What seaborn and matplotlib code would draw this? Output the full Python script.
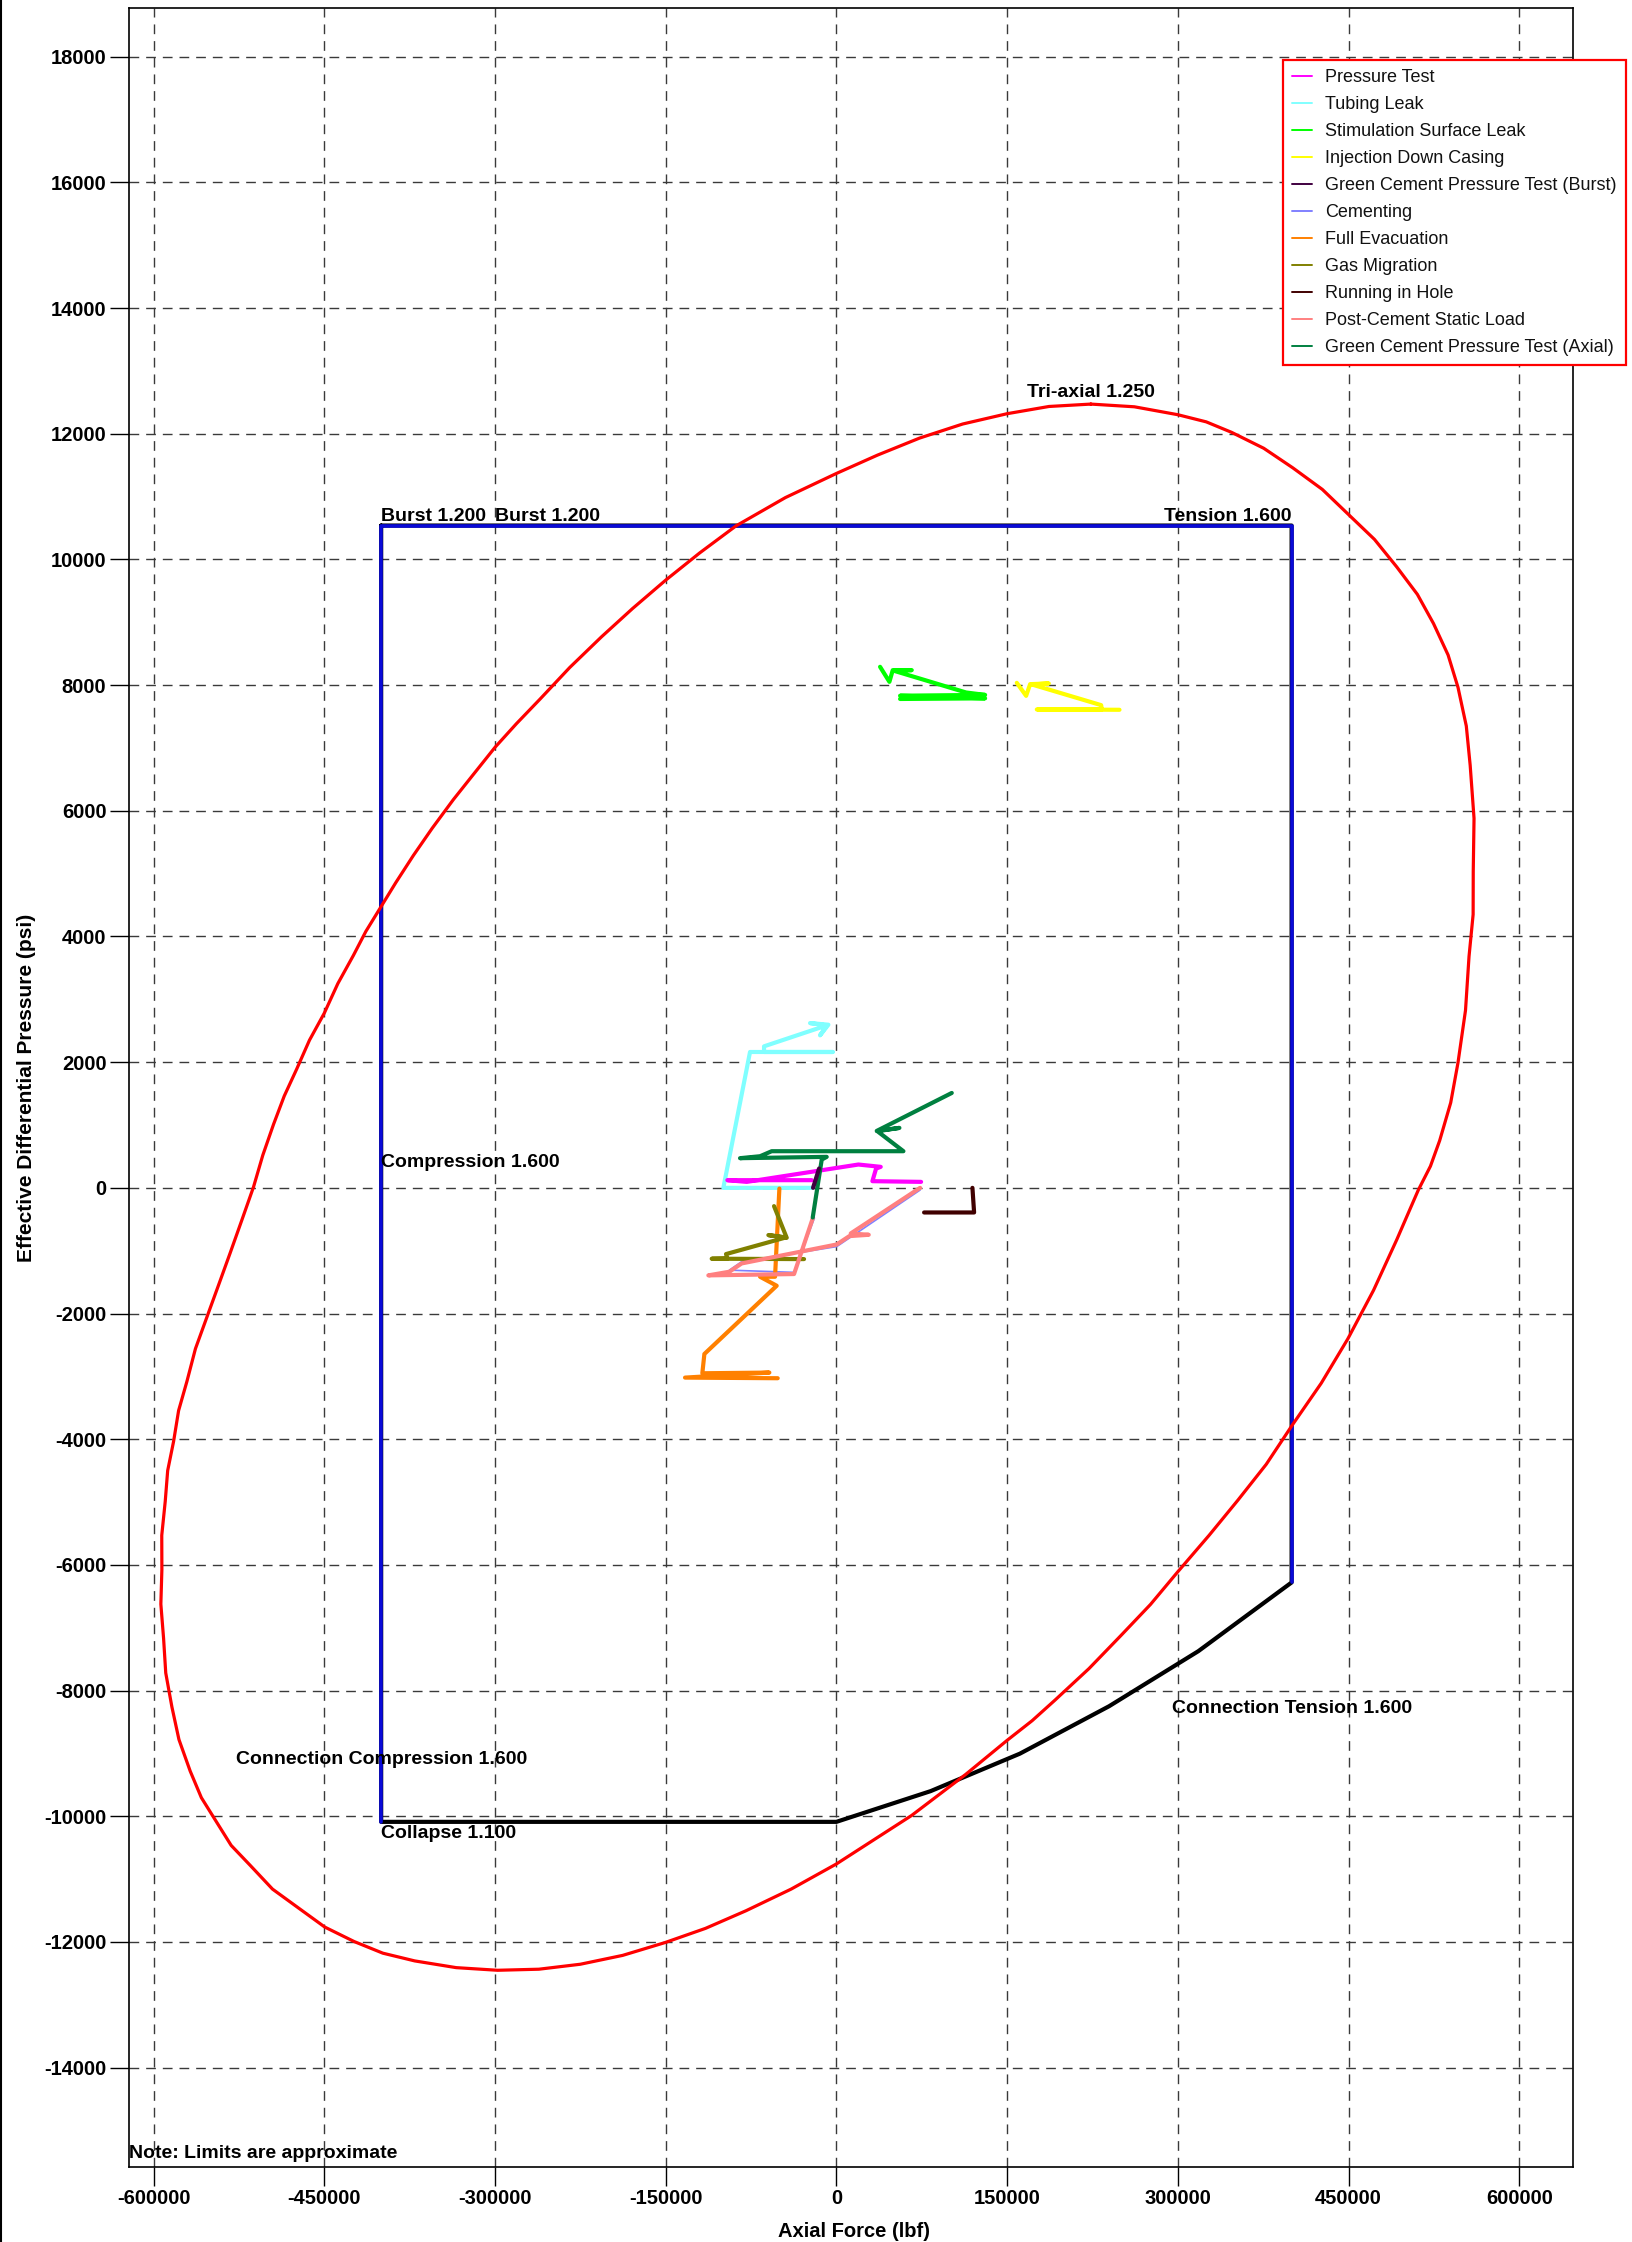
import numpy as np
import pandas as pd
import matplotlib
matplotlib.use("Agg")
import matplotlib.pyplot as plt
import seaborn as sns
from matplotlib.lines import Line2D

# ---------------- data ----------------
# Tri-axial 1.250 envelope
triax_x = [223600, 261800, 300000, 325000, 347300, 375500, 401000, 427000, 449400,
           472800, 492400, 510500, 524700, 537500, 546200, 553500, 556900, 560300,
           559600, 559500, 555900, 552800, 546200, 539800, 530100, 522000, 511300,
           501850, 492400, 472000, 449400, 426000, 400500, 377700, 352700, 327500,
           300000, 276000, 250000, 222000, 192000, 172000, 150000, 113600, 66050,
           0, -39740, -79480, -115000, -150560, -187800, -225000, -261400, -297760,
           -334100, -370520, -398500, -423700, -449500, -471270, -495500, -515100,
           -531800, -544400, -558000, -567800, -577700, -583900, -589300, -591200,
           -593600, -592700, -592800, -589750, -587600, -582400, -578000, -570700,
           -563200, -553170, -542900, -532700, -522400, -512190, -504000, -494630,
           -485200, -474140, -463000, -450000, -438100, -424380, -413500, -400960,
           -387200, -371700, -355200, -336600, -319300, -300000, -281200, -260300,
           -234300, -206400, -179200, -150000, -120000, -88170, -44800, 0, 36000,
           73110, 111000, 150000, 186800, 223600]
triax_y = [12473, 12430, 12304, 12190, 12023, 11770, 11459, 11115, 10726,
           10320, 9881, 9445, 8980, 8480, 7965, 7350, 6726, 5880,
           5035, 4350, 3683, 2825, 1992, 1355, 752, 345, -36,
           -430, -825, -1630, -2403, -3110, -3778, -4400, -4973, -5530,
           -6110, -6630, -7125, -7650, -8154, -8480, -8793, -9335, -9989,
           -10760, -11160, -11505, -11785, -12011, -12215, -12356, -12435, -12452,
           -12410, -12303, -12180, -11995, -11765, -11479, -11160, -10782,
           -10465, -10100, -9705, -9283, -8780, -8260, -7720, -7170,
           -6625, -6080, -5530, -4990, -4500, -4035, -3545, -3081,
           -2560, -2059, -1548, -1037, -512, 13, 520, 1008,
           1460, 1894, 2350, 2780, 3250, 3700, 4080, 4450,
           4856, 5290, 5722, 6178, 6572, 7010, 7386, 7780,
           8281, 8769, 9218, 9671, 10106, 10535, 10985, 11369, 11660,
           11932, 12156, 12320, 12435, 12473]

# API limits (Burst 1.200 / Tension 1.600 / Compression 1.600 / Collapse 1.100)
api_x = [-400000, -400000, 400000, 400000]
api_y = [-10090, 10540, 10540, -6280]

# Connection limits
conn_x = [-400000, 400000, 400000, 318000, 239600, 161200, 82800, 0, -400000, -400000]
conn_y = [10540, 10540, -6280, -7374, -8250, -9005, -9601, -10090, -10090, 10540]

series_names = ["Pressure Test", "Tubing Leak", "Stimulation Surface Leak",
                "Injection Down Casing", "Green Cement Pressure Test (Burst)",
                "Cementing", "Full Evacuation", "Gas Migration", "Running in Hole",
                "Post-Cement Static Load", "Green Cement Pressure Test (Axial)"]
series_colors = ["#ff00ff", "#80ffff", "#00ff00", "#ffff00", "#400040", "#8080ff",
                 "#ff8000", "#808000", "#400000", "#ff8080", "#008040"]

pressure_test_x = [-21680, -95800, -78800, 19340, 38970, 34870, 31640, 74420]
pressure_test_y = [122, 122, 95, 371, 334, 307, 106, 95]

tubing_leak_x = [-21680, -99330, -75890, -3220, -63580, -63580, -8500, -23150, -7030, -14360, -8500]
tubing_leak_y = [0, 0, 2162, 2162, 2162, 2252, 2585, 2622, 2596, 2427, 2585]

stim_leak_x = [38380, 46590, 49520, 66220, 50690, 113980, 130680, 55960, 130680, 55960]
stim_leak_y = [8292, 8053, 8239, 8239, 8228, 7883, 7845, 7832, 7790, 7780]

injection_x = [158510, 166720, 170230, 186640, 171700, 232640, 233230, 176090, 248760]
injection_y = [8037, 7830, 8016, 8027, 8011, 7682, 7613, 7613, 7608]

gcpt_burst_x = [-15236, -20510]
gcpt_burst_y = [307, 0]

cementing_x = [73540, 293, -83210, -94050, -37210, -19300]
cementing_y = [-35, -935, -1175, -1310, -1345, -480]

full_evac_x = [-50100, -53910, -67100, -52450, -116000, -117800, -58900, -133000, -51570]
full_evac_y = [-11, -1415, -1415, -1558, -2644, -2951, -2940, -3020, -3030]

gas_mig_x = [-54790, -43660, -59770, -44240, -96980, -95810, -109580, -28420]
gas_mig_y = [-291, -795, -752, -789, -1054, -1123, -1128, -1134]

rih_x = [77060, 121000, 119540]
rih_y = [-392, -392, 0]

post_cement_x = [73540, 12600, 28420, 11430, 293, -83210, -94050, -112510, -37210, -20800]
post_cement_y = [0, -726, -747, -768, -901, -1203, -1335, -1393, -1372, -487]

gcpt_axial_x = [101380, 35450, 55380, 36040, 58900, -56840, -67100, -84680, -8500, -12890, -20800]
gcpt_axial_y = [1510, 906, 954, 901, 583, 583, 503, 472, 493, 450, -472]

x_ticks = [-600000, -450000, -300000, -150000, 0, 150000, 300000, 450000, 600000]
y_ticks = list(range(-14000, 18001, 2000))

# ---------------- drawing ----------------
sns.set_theme(style="white")
plt.rcParams["font.family"] = ["Liberation Sans", "DejaVu Sans"]

fig = plt.figure(figsize=(16.32, 22.42), dpi=100)
ax = fig.add_axes([0.07886, 0.03367, 0.88499, 0.96258])


def draw(x, y, color, lw, z):
    df = pd.DataFrame({"x": x, "y": y})
    sns.lineplot(data=df, x="x", y="y", sort=False, estimator=None, color=color,
                 lw=lw, ax=ax, zorder=z, legend=False)


draw(conn_x, conn_y, "black", 3.0, 3)
draw(api_x, api_y, "#0a0ad8", 2.6, 4)
draw(triax_x, triax_y, "#ff0000", 2.3, 5)

series_data = [
    (pressure_test_x, pressure_test_y),
    (tubing_leak_x, tubing_leak_y),
    (stim_leak_x, stim_leak_y),
    (injection_x, injection_y),
    (gcpt_burst_x, gcpt_burst_y),
    (cementing_x, cementing_y),
    (full_evac_x, full_evac_y),
    (gas_mig_x, gas_mig_y),
    (rih_x, rih_y),
    (post_cement_x, post_cement_y),
    (gcpt_axial_x, gcpt_axial_y),
]
order = [5, 1, 0, 2, 3, 6, 7, 9, 10, 4, 8]
for k, i in enumerate(order):
    xs, ys = series_data[i]
    lw = 1.2 if series_names[i] == "Cementing" else 3.0
    draw(xs, ys, series_colors[i], lw, 6 + k * 0.1)

ax.set_xlim(-621850, 647260)
ax.set_ylim(-15575, 18770)
ax.set_xticks(x_ticks)
ax.set_yticks(y_ticks)
ax.set_xticklabels([str(v) for v in x_ticks])
ax.set_yticklabels([str(v) for v in y_ticks])
ax.grid(True, linestyle=(0, (7, 5)), color="#3a3a3a", lw=1.0)
ax.set_axisbelow(True)
ax.tick_params(axis="both", direction="out", length=14, width=1, color="black",
               labelsize=14.5, pad=2, left=True, bottom=True, labelcolor="black")
for lbl in ax.get_xticklabels() + ax.get_yticklabels():
    lbl.set_fontweight("bold")
for sp in ax.spines.values():
    sp.set_color("black")
    sp.set_linewidth(1.2)

ax.set_xlabel("Axial Force (lbf)", fontsize=14.5, fontweight="bold", color="black")
ax.set_ylabel("Effective Differential Pressure (psi)", fontsize=15, fontweight="bold", color="black")
ax.xaxis.label.set_va("center")
ax.xaxis.set_label_coords(0.502, -0.0299)
ax.yaxis.label.set_va("center")
ax.yaxis.set_label_coords(-0.0711, 0.5)

tk = dict(fontsize=14, fontweight="bold", color="black", zorder=10)
ax.text(223600, 12520, "Tri-axial 1.250", ha="center", va="bottom", **tk)
ax.text(400000, 10610, "Tension 1.600", ha="right", va="baseline", **tk)
ax.text(-300000, 10610, "Burst 1.200", ha="left", va="baseline", **tk)
ax.text(-400000, 10610, "Burst 1.200", ha="left", va="baseline", **tk)
ax.text(-400000, 400, "Compression 1.600", ha="left", va="center", **tk)
ax.text(-400000, -9100, "Connection Compression 1.600", ha="center", va="center", **tk)
ax.text(-400000, -10140, "Collapse 1.100", ha="left", va="top", **tk)
ax.text(400000, -8290, "Connection Tension 1.600", ha="center", va="center", **tk)
ax.text(0.0, 0.002, "Note: Limits are approximate", transform=ax.transAxes,
        ha="left", va="bottom", **tk)

handles = [Line2D([0], [0], color=c, lw=1.4) for c in series_colors]
leg = fig.legend(handles, series_names, loc="upper left",
                 bbox_to_anchor=(1283 / 1632, 1 - 60 / 2242), frameon=True,
                 fancybox=False, edgecolor="red", fontsize=13, handlelength=1.1,
                 handletextpad=0.75, labelspacing=0.555, borderpad=0.5,
                 borderaxespad=0, framealpha=1)
leg.get_frame().set_linewidth(1.6)
for t in leg.get_texts():
    t.set_color("#111111")

fig.add_artist(Line2D([0.0006, 0.0006], [0, 1], transform=fig.transFigure,
                      color="black", lw=1.5))

fig.savefig("out.png", dpi=100, facecolor="white")
